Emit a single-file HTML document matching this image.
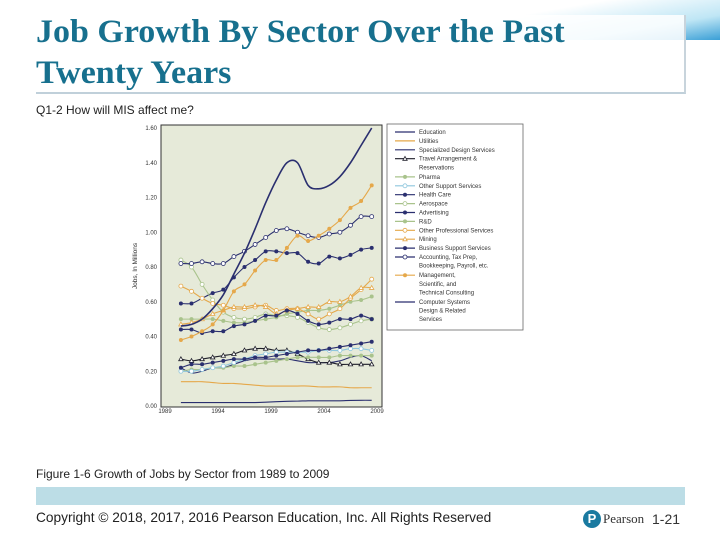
<!DOCTYPE html>
<html><head><meta charset="utf-8"><style>
body{margin:0;width:720px;height:540px;overflow:hidden;background:#fff;position:relative;font-family:"Liberation Sans",sans-serif}
.abs{position:absolute}
#title{left:36px;top:12px;font-family:"Liberation Serif",serif;font-weight:bold;color:#17708e;font-size:33px;line-height:41px;transform:scaleX(1.03);transform-origin:left top;white-space:nowrap}
</style></head><body>
<div class="abs" style="left:380px;top:0;width:340px;height:40px;background:linear-gradient(170deg,#fff 40%,#bfe6f5 75%,#3a9fd6 100%)"></div>
<div class="abs" style="left:36px;top:15px;width:648px;height:77px;border-right:2px solid #c8d4dc;border-bottom:2px solid #c0d0da;background:rgba(255,255,255,0.85)"></div>
<div id="title" class="abs">Job Growth By Sector Over the Past<br>Twenty Years</div>
<div class="abs" style="left:36px;top:103px;font-size:12px;color:#222">Q1-2 How will MIS affect me?</div>
<svg class="abs" style="left:0;top:0" width="720" height="540">
<g id="chart"></g>
</svg>
<div class="abs" style="left:36px;top:467px;font-size:12px;color:#222">Figure 1-6 Growth of Jobs by Sector from 1989 to 2009</div>
<div class="abs" style="left:36px;top:487px;width:649px;height:18px;background:#bcdde6"></div>
<div class="abs" style="left:36px;top:510px;font-size:13.7px;color:#222">Copyright © 2018, 2017, 2016 Pearson Education, Inc. All Rights Reserved</div>
<div class="abs" style="left:583px;top:510px;width:18px;height:18px;border-radius:50%;background:#1a7aa0;color:#fff;font-weight:bold;font-size:13px;text-align:center;line-height:18px">P</div>
<div class="abs" style="left:603px;top:511px;font-family:'Liberation Serif',serif;font-size:13px;color:#333">Pearson</div>
<div class="abs" style="left:652px;top:511px;font-size:14px;color:#333">1-21</div>
<script>
const years=[1990,1991,1992,1993,1994,1995,1996,1997,1998,1999,2000,2001,2002,2003,2004,2005,2006,2007,2008];
const xTicks=[1989,1994,1999,2004,2009];
const yTicks=[0,0.2,0.4,0.6,0.8,1.0,1.2,1.4,1.6];
const computerSystems=[0.46,0.47,0.50,0.56,0.64,0.76,0.88,1.02,1.17,1.30,1.40,1.40,1.27,1.25,1.27,1.32,1.40,1.50,1.60];
const accounting=[0.82,0.82,0.83,0.82,0.82,0.86,0.89,0.93,0.97,1.01,1.02,1.00,0.98,0.97,0.99,1.00,1.04,1.09,1.09];
const management=[0.38,0.40,0.43,0.47,0.55,0.66,0.70,0.78,0.84,0.84,0.91,0.98,0.95,0.98,1.02,1.07,1.14,1.18,1.27];
const healthCare=[0.59,0.59,0.62,0.65,0.67,0.74,0.80,0.84,0.89,0.89,0.88,0.88,0.83,0.82,0.86,0.85,0.87,0.90,0.91];
const otherProfessional=[0.69,0.66,0.62,0.59,0.58,0.56,0.56,0.57,0.58,0.55,0.56,0.56,0.53,0.50,0.53,0.56,0.62,0.67,0.73];
const aerospace=[0.84,0.80,0.70,0.61,0.54,0.51,0.50,0.51,0.53,0.52,0.52,0.51,0.48,0.45,0.44,0.45,0.47,0.49,0.50];
const rnd=[0.50,0.50,0.50,0.50,0.49,0.48,0.48,0.49,0.50,0.51,0.53,0.54,0.55,0.55,0.56,0.58,0.60,0.61,0.63];
const businessSupport=[0.44,0.44,0.42,0.43,0.43,0.46,0.47,0.49,0.52,0.52,0.55,0.53,0.49,0.47,0.48,0.50,0.50,0.52,0.50];
const mining=[0.47,0.48,0.50,0.53,0.55,0.57,0.57,0.58,0.57,0.53,0.55,0.56,0.57,0.57,0.60,0.60,0.63,0.68,0.68];
const travel=[0.27,0.26,0.27,0.28,0.29,0.30,0.32,0.33,0.33,0.32,0.32,0.30,0.27,0.25,0.25,0.24,0.24,0.24,0.24];
const advertising=[0.22,0.24,0.24,0.25,0.26,0.27,0.27,0.28,0.28,0.29,0.30,0.31,0.32,0.32,0.33,0.34,0.35,0.36,0.37];
const otherSupport=[0.20,0.20,0.21,0.22,0.23,0.25,0.27,0.29,0.30,0.31,0.31,0.31,0.31,0.32,0.32,0.32,0.33,0.33,0.32];
const pharma=[0.20,0.21,0.21,0.22,0.22,0.23,0.23,0.24,0.25,0.26,0.27,0.28,0.28,0.28,0.28,0.29,0.29,0.29,0.29];
const specializedDesign=[0.22,0.19,0.20,0.22,0.22,0.24,0.26,0.27,0.27,0.27,0.27,0.26,0.25,0.25,0.25,0.26,0.28,0.29,0.26];
const utilities=[0.14,0.14,0.14,0.135,0.13,0.13,0.125,0.12,0.115,0.115,0.115,0.115,0.115,0.11,0.11,0.11,0.105,0.105,0.105];
const education=[0.02,0.02,0.02,0.02,0.02,0.02,0.02,0.02,0.022,0.025,0.027,0.028,0.03,0.03,0.03,0.03,0.032,0.033,0.033];
const legendLabels=["Education","Utilities","Specialized Design Services","Travel Arrangement &|Reservations","Pharma","Other Support Services","Health Care","Aerospace","Advertising","R&D","Other Professional Services","Mining","Business Support Services","Accounting, Tax Prep,|Bookkeeping, Payroll, etc.","Management,|Scientific, and|Technical Consulting","Computer Systems|Design & Related|Services"];

const NAVY="#2a2f6f",OR="#e5a84a",LG="#a9c38c",LB="#8ec6dd",BK="#1f1f2a";
const series=[
 {n:"education",d:education,c:NAVY,m:"none"},
 {n:"utilities",d:utilities,c:OR,m:"none"},
 {n:"specialized-design",d:specializedDesign,c:NAVY,m:"none"},
 {n:"travel",d:travel,c:BK,m:"tri"},
 {n:"pharma",d:pharma,c:LG,m:"fill"},
 {n:"other-support",d:otherSupport,c:LB,m:"open"},
 {n:"health-care",d:healthCare,c:NAVY,m:"fill"},
 {n:"aerospace",d:aerospace,c:LG,m:"open"},
 {n:"advertising",d:advertising,c:NAVY,m:"fill"},
 {n:"rnd",d:rnd,c:LG,m:"fill"},
 {n:"other-professional",d:otherProfessional,c:OR,m:"open"},
 {n:"mining",d:mining,c:OR,m:"tri"},
 {n:"business-support",d:businessSupport,c:NAVY,m:"fill"},
 {n:"accounting",d:accounting,c:NAVY,m:"open"},
 {n:"management",d:management,c:OR,m:"fill"},
 {n:"computer-systems",d:computerSystems,c:NAVY,m:"none"}
];
const NS="http://www.w3.org/2000/svg";
const g=document.getElementById('chart');
const L=161,R=382,T=125,B=407;
const x=v=>165+(v-1989)*(377-165)/20;
const y=v=>406-v*(406-128)/1.6;
function el(t,a,p){const e=document.createElementNS(NS,t);for(const k in a)e.setAttribute(k,a[k]);(p||g).appendChild(e);return e;}
function smooth(P){let d=`M${P[0][0]},${P[0][1]}`;for(let i=0;i<P.length-1;i++){const p0=P[Math.max(0,i-1)],p1=P[i],p2=P[i+1],p3=P[Math.min(P.length-1,i+2)];
 d+=`C${p1[0]+(p2[0]-p0[0])/6},${p1[1]+(p2[1]-p0[1])/6} ${p2[0]-(p3[0]-p1[0])/6},${p2[1]-(p3[1]-p1[1])/6} ${p2[0]},${p2[1]}`;}return d;}
const bg=el('rect',{x:L,y:T,width:R-L,height:B-T,fill:"#e6ead9",stroke:"#333","stroke-width":1});


yTicks.forEach(t=>{const tx=el('text',{x:L-4,y:y(t)+2,"font-size":6,"text-anchor":"end",fill:"#333"});tx.textContent=t.toFixed(2);

});
xTicks.forEach(t=>{const tx=el('text',{x:x(t),y:B+6,"font-size":6,"text-anchor":"middle",fill:"#333"});tx.textContent=t;

});
const yt=el('text',{x:0,y:0,"font-size":6.5,"text-anchor":"middle",fill:"#333",transform:`translate(137,${(T+B)/2}) rotate(-90)`});yt.textContent="Jobs, In Millions";


function marker(m,c,cx,cy,parent){
 if(m==="fill")return el('circle',{cx,cy,r:2,fill:c},parent);
 if(m==="open")return el('circle',{cx,cy,r:2,fill:"#fff",stroke:c,"stroke-width":0.8},parent);
 if(m==="tri")return el('path',{d:`M${cx},${cy-2.3}L${cx+2.2},${cy+1.6}L${cx-2.2},${cy+1.6}Z`,fill:"#fff",stroke:c,"stroke-width":0.8},parent);
}
series.forEach(s=>{
 const grp=el('g',{});
 
 
 const P=s.d.map((v,i)=>[x(years[i]+0.5),y(v)]);
 el('path',{d:smooth(P),fill:"none",stroke:s.c,"stroke-width":s.n==="computer-systems"?1.6:1.1},grp);
 if(s.m!=="none")s.d.forEach((v,i)=>{const mk=marker(s.m,s.c,x(years[i]+0.5),y(v),grp);
  
  });
});
const lg=el('g',{});


el('rect',{x:387,y:124,width:136,height:206,fill:"#fff",stroke:"#666","stroke-width":0.8},lg);
let ly=134;
series.forEach((s,i)=>{
 const e=el('g',{},lg);
 
 
 el('line',{x1:395,x2:415,y1:ly-2,y2:ly-2,stroke:s.c,"stroke-width":1.2},e);
 if(s.m!=="none")marker(s.m,s.c,405,ly-2,e);
 const parts=legendLabels[i].split("|");
 parts.forEach((ln,j)=>{const t=el('text',{x:419,y:ly+j*8.6,"font-size":6,fill:"#333"},e);t.textContent=ln;});
 ly+=parts.length*8.6+(parts.length>1?1:0.3);
});
</script>
</body></html>
